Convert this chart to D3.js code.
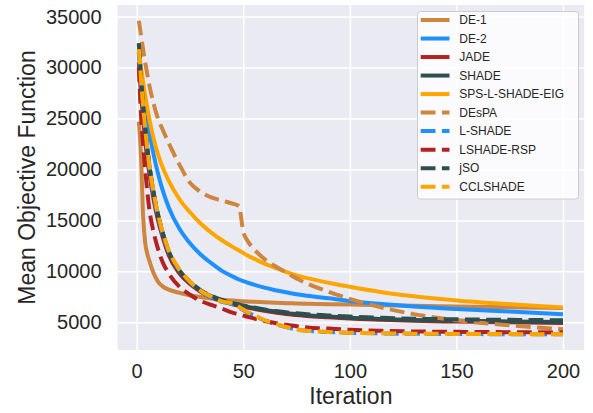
<!DOCTYPE html>
<html>
<head>
<meta charset="utf-8">
<script src="https://cdn.jsdelivr.net/npm/d3@7"></script>
<style>
  html, body { margin: 0; padding: 0; background: #ffffff; }
  svg { display: block; }
  text { font-family: "Liberation Sans", Arial, sans-serif; fill: #262626; }
</style>
</head>
<body>
<svg id="chart" width="593" height="413"></svg>
<script>
// ---------- data ----------
const iterations = [1,2,3,4,5,6,8,10,12,15,20,25,30,35,40,45,48,50,52,55,60,65,70,75,80,90,100,115,130,150,175,200];

const de1       = [24700,21500,15500,12800,11700,11000,9800,9000,8550,8200,7900,7650,7480,7340,7220,7130,7090,7060,7040,7010,6960,6920,6880,6850,6820,6780,6740,6680,6620,6550,6470,6400];
const de2       = [31500,29600,27900,26300,24900,23600,21400,19600,18100,16300,14200,12750,11650,10800,10050,9500,9200,9050,8900,8700,8400,8150,7950,7750,7600,7350,7100,6800,6550,6300,6050,5800];
const jade      = [30500,27500,25000,22800,21000,19500,17000,15000,13500,11600,9800,8750,8000,7450,7070,6770,6620,6520,6440,6320,6120,5970,5820,5720,5620,5490,5370,5250,5150,5070,5000,4940];
const shade     = [32300,29000,26300,24000,22000,20300,17600,15500,13900,11900,10000,8900,8100,7550,7150,6850,6700,6600,6520,6400,6200,6050,5900,5800,5700,5570,5450,5330,5230,5150,5080,5020];
const spsLShadeEig = [31500,30000,28600,27300,26000,24900,23000,21500,20300,18900,17100,15800,14700,13800,13050,12400,12050,11800,11550,11250,10750,10350,9950,9600,9330,8880,8480,7950,7550,7150,6780,6450];
const despa     = [34600,33200,31800,30500,29300,28200,26400,25000,24000,22600,20500,18700,17800,17250,16950,16650,16400,13900,13000,12200,11200,10500,9900,9300,8800,8000,7300,6450,5800,5200,4700,4320];
const lShade    = [31500,28800,26100,23800,21800,20100,17500,15400,13800,11950,10100,8950,8050,7450,7000,6800,6450,6200,5950,5680,5180,4830,4530,4290,4170,4040,3970,3910,3870,3850,3830,3820];
const lshadeRsp = [30000,25500,22500,20000,17800,16000,13800,12200,11000,9800,8500,7700,7100,6700,6350,5950,5780,5650,5540,5380,5130,4930,4750,4620,4500,4380,4260,4160,4100,4060,4030,4000];
const jso       = [32400,29200,26500,24100,22100,20400,17700,15600,13950,12000,10100,9000,8150,7600,7200,6900,6750,6650,6570,6450,6250,6100,5980,5880,5790,5670,5560,5440,5350,5290,5240,5200];
const cclShade  = [31800,29000,26300,24000,22000,20300,17700,15600,14000,12100,10200,9000,8100,7500,7050,6850,6500,6250,6000,5720,5200,4850,4550,4300,4180,4050,3980,3920,3880,3860,3840,3830];

const seriesNames  = ["DE-1","DE-2","JADE","SHADE","SPS-L-SHADE-EIG","DEsPA","L-SHADE","LSHADE-RSP","jSO","CCLSHADE"];
const seriesValues = [de1, de2, jade, shade, spsLShadeEig, despa, lShade, lshadeRsp, jso, cclShade];
const seriesColors = ["#CD853F","#1E90FF","#B22222","#2F4F4F","#FFA500","#CD853F","#1E90FF","#B22222","#2F4F4F","#FFA500"];
const seriesDashed = [false,false,false,false,false,true,true,true,true,true];

const xTicks = [0,50,100,150,200];
const yTicks = [5000,10000,15000,20000,25000,30000,35000];

// ---------- layout ----------
const svg = d3.select("#chart");
const plot = { left: 117.6, right: 584.2, top: 5, bottom: 350 };

const xExt = d3.extent(iterations);
const xPad = (xExt[1] - xExt[0]) * 0.05;
const x = d3.scaleLinear().domain([xExt[0] - xPad, xExt[1] + xPad]).range([plot.left, plot.right]);

const allVals = seriesValues.flat();
const yExt = d3.extent(allVals);
const yPad = (yExt[1] - yExt[0]) * 0.05;
const y = d3.scaleLinear().domain([yExt[0] - yPad, yExt[1] + yPad]).range([plot.bottom, plot.top]);

// background
svg.append("rect")
  .attr("x", plot.left).attr("y", plot.top)
  .attr("width", plot.right - plot.left).attr("height", plot.bottom - plot.top)
  .attr("fill", "#EAEAF2");

// grid + axes
const xAxis = d3.axisBottom(x).tickValues(xTicks).tickSize(-(plot.bottom - plot.top)).tickPadding(14).tickFormat(d3.format("d"));
const gx = svg.append("g").attr("transform", `translate(0,${plot.bottom})`).call(xAxis);
gx.select(".domain").remove();
gx.selectAll(".tick line").attr("stroke", "#ffffff").attr("stroke-width", 1.5);
gx.selectAll(".tick text").attr("font-size", 20).attr("fill", "#262626").attr("dy", "0.71em");

const yAxis = d3.axisLeft(y).tickValues(yTicks).tickSize(-(plot.right - plot.left)).tickPadding(16).tickFormat(d3.format("d"));
const gy = svg.append("g").attr("transform", `translate(${plot.left},0)`).call(yAxis);
gy.select(".domain").remove();
gy.selectAll(".tick line").attr("stroke", "#ffffff").attr("stroke-width", 1.5);
gy.selectAll(".tick text").attr("font-size", 20).attr("fill", "#262626");

// clip
svg.append("clipPath").attr("id", "clip").append("rect")
  .attr("x", plot.left).attr("y", plot.top)
  .attr("width", plot.right - plot.left).attr("height", plot.bottom - plot.top);

const line = d3.line()
  .x((d, i) => x(iterations[i]))
  .y(d => y(d))
  .curve(d3.curveMonotoneX);

const gLines = svg.append("g").attr("clip-path", "url(#clip)");
seriesValues.forEach((vals, k) => {
  gLines.append("path")
    .datum(vals)
    .attr("d", line)
    .attr("fill", "none")
    .attr("stroke", seriesColors[k])
    .attr("stroke-width", 4)
    .attr("stroke-dasharray", seriesDashed[k] ? "14.8,6.4" : null)
    .attr("stroke-linecap", "butt")
    .attr("stroke-linejoin", "round");
});

// axis labels
svg.append("text")
  .attr("x", (plot.left + plot.right) / 2).attr("y", 404)
  .attr("text-anchor", "middle").attr("font-size", 23)
  .text("Iteration");

svg.append("text")
  .attr("transform", `translate(35,${(plot.top + plot.bottom) / 2}) rotate(-90)`)
  .attr("text-anchor", "middle").attr("font-size", 23)
  .text("Mean Objective Function");

// legend
const leg = { x: 417.5, y: 11.5, w: 161, h: 187.5 };
const gLeg = svg.append("g");
gLeg.append("rect")
  .attr("x", leg.x).attr("y", leg.y).attr("width", leg.w).attr("height", leg.h)
  .attr("rx", 3).attr("ry", 3)
  .attr("fill", "#ffffff").attr("fill-opacity", 0.8)
  .attr("stroke", "#cccccc").attr("stroke-width", 1);

const rowY0 = 20, rowStep = 18.52;
seriesNames.forEach((name, k) => {
  const yy = rowY0 + k * rowStep;
  gLeg.append("line")
    .attr("x1", 420.7).attr("x2", 449.5).attr("y1", yy).attr("y2", yy)
    .attr("stroke", seriesColors[k]).attr("stroke-width", 4)
    .attr("stroke-dasharray", seriesDashed[k] ? "14.8,6.4" : null);
  gLeg.append("text")
    .attr("x", 459.3).attr("y", yy).attr("dy", "0.35em")
    .attr("font-size", 12)
    .text(name);
});
</script>
</body>
</html>
